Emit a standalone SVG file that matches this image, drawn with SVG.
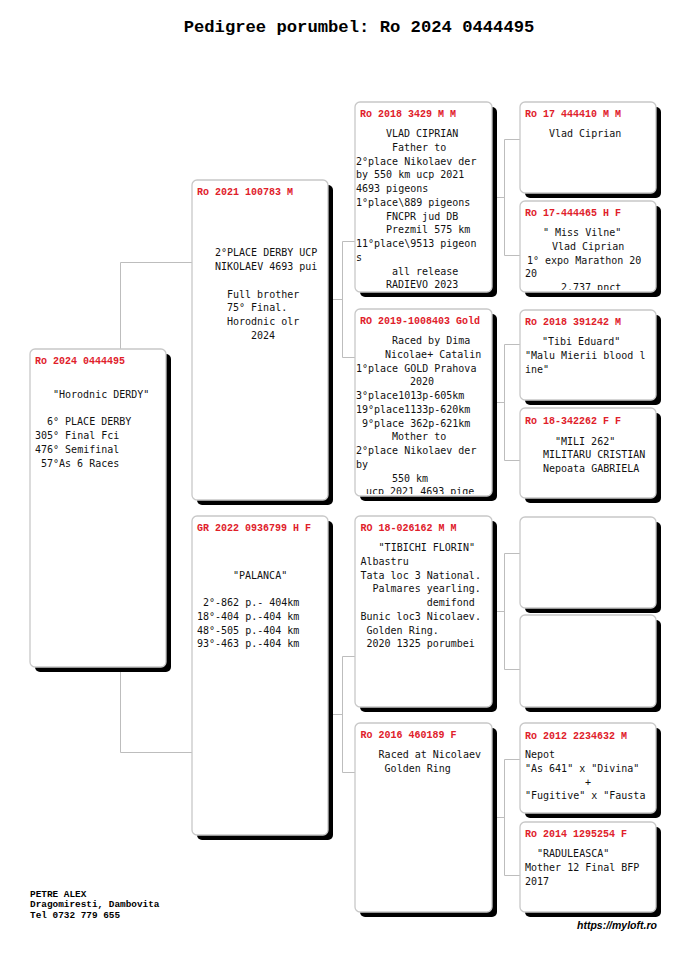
<svg xmlns="http://www.w3.org/2000/svg" width="685" height="968" viewBox="0 0 685 968">
<style>
.bg{fill:#fff}
.box{fill:#fff;stroke:#c8c8c8;stroke-width:1.3}
.sh{fill:#000}
.hd{font-family:"Liberation Mono","Courier New",monospace;font-weight:bold;font-size:10px;fill:#e0202a}
.tx{font-family:"DejaVu Sans Mono",monospace;font-size:10px;fill:#111}
.ln{stroke:#bdbdbd;stroke-width:1;fill:none}
.title{font-family:"Liberation Mono","Courier New",monospace;font-weight:bold;font-size:17.2px;fill:#000}
.ft{font-family:"Liberation Mono","Courier New",monospace;font-weight:bold;font-size:9.4px;fill:#000}
.url{font-family:"Liberation Sans",Arial,sans-serif;font-weight:bold;font-style:italic;font-size:10.5px;fill:#000}
</style>
<defs>
<clipPath id="c3b"><rect x="355" y="309" width="137" height="185"/></clipPath>
<clipPath id="c4b"><rect x="520" y="201" width="136" height="89"/></clipPath>
</defs>
<rect class="bg" x="0" y="0" width="685" height="968"/>
<text class="title" x="359" y="32" text-anchor="middle">Pedigree porumbel: Ro 2024 0444495</text>

<g id="connectors">
<path class="ln" d="M120.5,262.5V752.5M120.5,262.5H192M120.5,752.5H192"/>
<path class="ln" d="M328,299.5H342.5M342.5,241.5V357.5M342.5,241.5H355M342.5,357.5H355"/>
<path class="ln" d="M328,714.5H342.5M342.5,656.5V772.5M342.5,656.5H355M342.5,772.5H355"/>
<path class="ln" d="M492,197.5H504.5M504.5,139.5V255.5M504.5,139.5H520M504.5,255.5H520"/>
<path class="ln" d="M492,402.5H504.5M504.5,344.5V460.5M504.5,344.5H520M504.5,460.5H520"/>
<path class="ln" d="M492,611.5H504.5M504.5,553.5V669.5M504.5,553.5H520M504.5,669.5H520"/>
<path class="ln" d="M492,817.5H504.5M504.5,759.5V875.5M504.5,759.5H520M504.5,875.5H520"/>
</g>

<g id="n-root">
<rect class="sh" x="35" y="354" width="136" height="318" rx="5"/>
<rect class="box" x="30" y="349" width="136" height="318" rx="5"/>
<text class="hd" x="35" y="364">Ro 2024 0444495</text>
<text class="tx"><tspan x="53" y="397.7">"Horodnic DERDY"</tspan><tspan x="47" y="425.2">6° PLACE DERBY</tspan><tspan x="35" y="439">305° Final Fci</tspan><tspan x="35" y="452.7">476° Semifinal</tspan><tspan x="41" y="466.5">57°As 6 Races</tspan></text>
</g>

<g id="n-sire">
<rect class="sh" x="197" y="185" width="136" height="320" rx="5"/>
<rect class="box" x="192" y="180" width="136" height="320" rx="5"/>
<text class="hd" x="197" y="195">Ro 2021 100783 M</text>
<text class="tx"><tspan x="215" y="256.2">2°PLACE DERBY UCP</tspan><tspan x="215" y="270">NIKOLAEV 4693 pui</tspan><tspan x="227" y="297.5">Full brother</tspan><tspan x="227" y="311.2">75° Final.</tspan><tspan x="227" y="325">Horodnic olr</tspan><tspan x="251" y="338.7">2024</tspan></text>
</g>

<g id="n-dam">
<rect class="sh" x="197" y="521" width="136" height="319" rx="5"/>
<rect class="box" x="192" y="516" width="136" height="319" rx="5"/>
<text class="hd" x="197" y="531">GR 2022 0936799 H F</text>
<text class="tx"><tspan x="233" y="578.5">"PALANCA"</tspan><tspan x="203" y="606">2°-862 p.- 404km</tspan><tspan x="197" y="619.7">18°-404 p.-404 km</tspan><tspan x="197" y="633.5">48°-505 p.-404 km</tspan><tspan x="197" y="647.2">93°-463 p.-404 km</tspan></text>
</g>

<g id="n-ss">
<rect class="sh" x="360" y="107" width="137" height="190" rx="5"/>
<rect class="box" x="355" y="102" width="137" height="190" rx="5"/>
<text class="hd" x="360" y="117">Ro 2018 3429 M M</text>
<text class="tx"><tspan x="386" y="137">VLAD CIPRIAN</tspan><tspan x="392" y="150.7">Father to</tspan><tspan x="356" y="164.5">2°place Nikolaev der</tspan><tspan x="356" y="178.2">by 550 km ucp 2021</tspan><tspan x="356" y="192">4693 pigeons</tspan><tspan x="356" y="205.7">1°place\889 pigeons</tspan><tspan x="386" y="219.5">FNCPR jud DB</tspan><tspan x="386" y="233.2">Prezmil 575 km</tspan><tspan x="356" y="247">11°place\9513 pigeon</tspan><tspan x="356" y="260.7">s</tspan><tspan x="392" y="274.5">all release</tspan><tspan x="386" y="288.2">RADIEVO 2023</tspan></text>
</g>

<g id="n-sd">
<rect class="sh" x="360" y="314" width="137" height="187" rx="5"/>
<rect class="box" x="355" y="309" width="137" height="187" rx="5"/>
<text class="hd" x="360" y="324">RO 2019-1008403 Gold</text>
<text class="tx" clip-path="url(#c3b)"><tspan x="392" y="344">Raced by Dima</tspan><tspan x="385" y="357.7">Nicolae+ Catalin</tspan><tspan x="356" y="371.5">1°place GOLD Prahova</tspan><tspan x="410" y="385.2">2020</tspan><tspan x="356" y="399">3°place1013p-605km</tspan><tspan x="356" y="412.7">19°place1133p-620km</tspan><tspan x="362" y="426.5">9°place 362p-621km</tspan><tspan x="392" y="440.2">Mother to</tspan><tspan x="356" y="454">2°place Nikolaev der</tspan><tspan x="356" y="467.7">by</tspan><tspan x="392" y="481.5">550 km</tspan><tspan x="366" y="495.2">ucp 2021 4693 pige</tspan></text>
</g>

<g id="n-ds">
<rect class="sh" x="360" y="521" width="137" height="191" rx="5"/>
<rect class="box" x="355" y="516" width="137" height="191" rx="5"/>
<text class="hd" x="360.5" y="531">RO 18-026162 M M</text>
<text class="tx"><tspan x="378.6" y="551">"TIBICHI FLORIN"</tspan><tspan x="360.5" y="564.7">Albastru</tspan><tspan x="360.5" y="578.5">Tata loc 3 National.</tspan><tspan x="372.5" y="592.2">Palmares yearling.</tspan><tspan x="426.7" y="606">demifond</tspan><tspan x="360.5" y="619.7">Bunic loc3 Nicolaev.</tspan><tspan x="366.5" y="633.5">Golden Ring.</tspan><tspan x="366.5" y="647.2">2020 1325 porumbei</tspan></text>
</g>

<g id="n-dd">
<rect class="sh" x="360" y="728" width="137" height="189" rx="5"/>
<rect class="box" x="355" y="723" width="137" height="189" rx="5"/>
<text class="hd" x="360.5" y="738">Ro 2016 460189 F</text>
<text class="tx"><tspan x="378.6" y="758">Raced at Nicolaev</tspan><tspan x="384.6" y="771.7">Golden Ring</tspan></text>
</g>

<g id="n-sss">
<rect class="sh" x="525" y="107" width="136" height="91" rx="5"/>
<rect class="box" x="520" y="102" width="136" height="91" rx="5"/>
<text class="hd" x="525" y="117">Ro 17 444410 M M</text>
<text class="tx"><tspan x="549" y="137">Vlad Ciprian</tspan></text>
</g>

<g id="n-ssd">
<rect class="sh" x="525" y="206" width="136" height="91" rx="5"/>
<rect class="box" x="520" y="201" width="136" height="91" rx="5"/>
<text class="hd" x="525" y="216">Ro 17-444465 H F</text>
<text class="tx" clip-path="url(#c4b)"><tspan x="543" y="236">" Miss Vilne"</tspan><tspan x="552" y="249.7">Vlad Ciprian</tspan><tspan x="527" y="263.5">1° expo Marathon 20</tspan><tspan x="525" y="277.2">20</tspan><tspan x="561" y="291">2.737 pnct</tspan></text>
</g>

<g id="n-sds">
<rect class="sh" x="525" y="315" width="136" height="90" rx="5"/>
<rect class="box" x="520" y="310" width="136" height="90" rx="5"/>
<text class="hd" x="525" y="325">Ro 2018 391242 M</text>
<text class="tx"><tspan x="542" y="345">"Tibi Eduard"</tspan><tspan x="525" y="358.7">"Malu Mierii blood l</tspan><tspan x="525" y="372.5">ine"</tspan></text>
</g>

<g id="n-sdd">
<rect class="sh" x="525" y="413" width="136" height="90" rx="5"/>
<rect class="box" x="520" y="408" width="136" height="90" rx="5"/>
<text class="hd" x="525" y="423.5">Ro 18-342262 F F</text>
<text class="tx"><tspan x="555" y="444.5">"MILI 262"</tspan><tspan x="543" y="458.2">MILITARU CRISTIAN</tspan><tspan x="543" y="472">Nepoata GABRIELA</tspan></text>
</g>

<g id="n-dss">
<rect class="sh" x="525" y="522" width="136" height="91" rx="5"/>
<rect class="box" x="520" y="517" width="136" height="91" rx="5"/>
</g>

<g id="n-dsd">
<rect class="sh" x="525" y="620" width="136" height="92" rx="5"/>
<rect class="box" x="520" y="615" width="136" height="92" rx="5"/>
</g>

<g id="n-dds">
<rect class="sh" x="525" y="728" width="136" height="90" rx="5"/>
<rect class="box" x="520" y="723" width="136" height="90" rx="5"/>
<text class="hd" x="525" y="738.5">Ro 2012 2234632 M</text>
<text class="tx"><tspan x="525" y="758">Nepot</tspan><tspan x="525" y="771.7">"As 641" x "Divina"</tspan><tspan x="585" y="785.5">+</tspan><tspan x="525" y="799.2">"Fugitive" x "Fausta</tspan></text>
</g>

<g id="n-ddd">
<rect class="sh" x="525" y="827" width="136" height="90" rx="5"/>
<rect class="box" x="520" y="822" width="136" height="90" rx="5"/>
<text class="hd" x="525" y="837">Ro 2014 1295254 F</text>
<text class="tx"><tspan x="537" y="857">"RADULEASCA"</tspan><tspan x="525" y="870.7">Mother 12 Final BFP</tspan><tspan x="525" y="884.5">2017</tspan></text>
</g>

<g id="footer">
<text class="ft"><tspan x="30" y="896.5">PETRE ALEX</tspan><tspan x="30" y="907">Dragomiresti, Dambovita</tspan><tspan x="30" y="917.5">Tel 0732 779 655</tspan></text>
<text class="url" x="577" y="928.5">https://myloft.ro</text>
</g>
</svg>
